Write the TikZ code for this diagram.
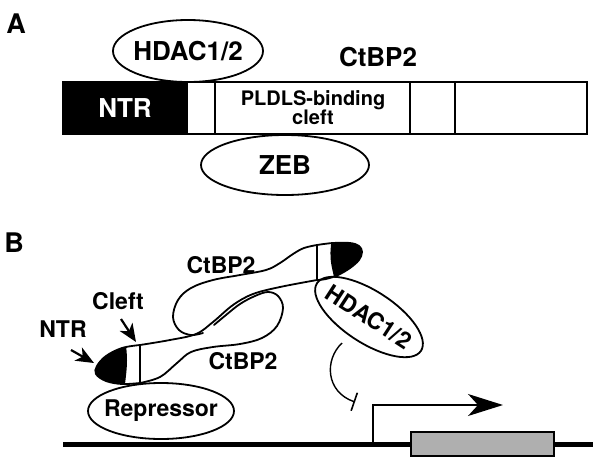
\documentclass[tikz,border=0pt]{standalone}
\usepackage{fontspec}
\setmainfont{TeX Gyre Heros}
\usetikzlibrary{shapes.geometric,arrows.meta}
\definecolor{genegray}{RGB}{175,175,175}
\begin{document}
\begin{tikzpicture}[x=1pt,y=-1pt,
  lbla/.style={font=\bfseries\fontsize{26}{28}\selectfont, inner sep=0pt},
  lblb/.style={font=\bfseries\fontsize{23}{25}\selectfont, inner sep=0pt},
  ell/.style={ellipse, draw, line width=1.8pt, inner sep=0pt, fill=white},
  seg/.style={rectangle, draw, line width=1.9pt, inner sep=0pt, minimum height=52pt},
  outl/.style={line width=1.8pt, line join=round, line cap=round},
  ptr/.style={line width=2.2pt, -{Stealth[length=18pt,width=15pt,inset=5pt]}},
]
\useasboundingbox (0,0) rectangle (600,464);

% ---------- Panel A ----------
\node[lbla, font=\bfseries\fontsize{27}{29}\selectfont] (A) at (16,24) {A};
\node[ell, minimum width=150pt, minimum height=62pt, lbla] (hdacA) at (188,51) {\makebox[0pt]{HDAC1/2}};
\node[lbla] (ctbpA) at (378,57) {CtBP2};
\node[seg, fill=black, text=white, minimum width=124pt, lbla] (ntrA) at (125,108) {NTR};
\node[seg, minimum width=28pt] (s2) at (201,108) {};
\node[seg, minimum width=195pt, align=center, font=\bfseries\fontsize{20}{19}\selectfont] (cleftA) at (313,108) {PLDLS-binding\\cleft};
\node[seg, minimum width=45pt] (s4) at (432.5,108) {};
\node[seg, minimum width=132pt] (s5) at (521,108) {};
\node[ell, minimum width=168pt, minimum height=60pt, lbla] (zeb) at (285,165) {\makebox[0pt]{ZEB}};

% ---------- Panel B ----------
\node[lbla, font=\bfseries\fontsize{27}{29}\selectfont] (B) at (14,243) {B};

% DNA and gene
\coordinate (dnaL) at (63,444);
\coordinate (dnaR) at (593,444);
\draw[line width=5pt] (dnaL) -- (dnaR);
\node[rectangle, draw, line width=1.6pt, fill=genegray, minimum width=143pt, minimum height=24pt, inner sep=0pt] (gene) at (482.5,444) {};

% promoter arrow
\coordinate (tss) at (373,444);
\coordinate (txE) at (503,405);
\draw[line width=1.4pt, -{Stealth[length=35pt,width=22pt,inset=10pt]}] (tss) |- (txE);

% ellipses
\node[ell, minimum width=146pt, minimum height=56pt, lblb] (rep) at (161,411) {\makebox[0pt]{Repressor}};
\node[ell, minimum width=124pt, minimum height=52pt, rotate=-33, lblb] (hdacB) at (369,317) {\makebox[0pt]{HDAC1/2}};

% inhibition
\coordinate (inhS) at (342,343);
\coordinate (inhE) at (355,402);
\draw[line width=1.4pt, -{Bar[width=19pt,line width=1.6pt]}] (inhS) .. controls (324,360) and (326,392) .. (inhE);

% CtBP2 dimer: tip fills
\begin{scope}
  \clip (60,330) -- (124,330) .. controls (128,360) .. (124,392) -- (60,392) -- cycle;
  \fill plot[smooth, tension=0.6] coordinates {(140,345) (122,348) (106,356) (97,366) (96,374) (106,381) (122,384) (140,383)} -- cycle;
\end{scope}
\begin{scope}
  \clip (333,230) .. controls (329,258) .. (338,292) -- (380,292) -- (380,230) -- cycle;
  \fill plot[smooth, tension=0.6] coordinates {(317,245) (333,243) (350,243) (359,246) (362,252) (359,260) (350,268) (338,275) (326,279) (317,280)} -- cycle;
\end{scope}
% tip outlines
\draw[outl] plot[smooth, tension=0.6] coordinates {(140,345) (122,348) (106,356) (97,366) (96,374) (106,381) (122,384) (140,383)};
\draw[outl] plot[smooth, tension=0.6] coordinates {(317,245) (333,243) (350,243) (359,246) (362,252) (359,260) (350,268) (338,275) (326,279) (317,280)};
% shared S-line
\draw[outl] plot[smooth, tension=0.6] coordinates {(140,345) (170,340) (196,334) (213,322) (233,305) (253,294) (280,287) (317,280)};
% molecule 1 lower edge with loop
\draw[outl] plot[smooth, tension=0.6] coordinates {(140,383) (160,377) (177,363) (191,352) (213,347) (240,344) (262,338) (277,326) (283,308) (278,296) (268,292) (255,296) (240,304) (226,315) (214,325)};
% molecule 2 upper edge with loop
\draw[outl] plot[smooth, tension=0.6] coordinates {(317,245) (304,248) (293,254) (280,263) (266,270) (240,275) (213,280) (191,288) (178,300) (173,317) (179,330) (191,335) (203,333)};
% cleft lines
\draw[line width=2.6pt] (140,344) -- (140,384);
\draw[line width=2.6pt] (317,244) -- (317,281);

% labels and pointers
\node[lblb] (ctbpU) at (221,265) {CtBP2};
\node[lblb] (ctbpL) at (243,361) {CtBP2};
\node[lblb] (ntrB) at (63,329) {NTR};
\node[lblb] (cleftB) at (118,301) {Cleft};
\coordinate (ntrS) at (71,350);
\coordinate (ntrT) at (94,363);
\coordinate (clS) at (121,319);
\coordinate (clT) at (136,342);
\draw[ptr] (ntrS) -- (ntrT);
\draw[ptr] (clS) -- (clT);
\end{tikzpicture}
\end{document}
